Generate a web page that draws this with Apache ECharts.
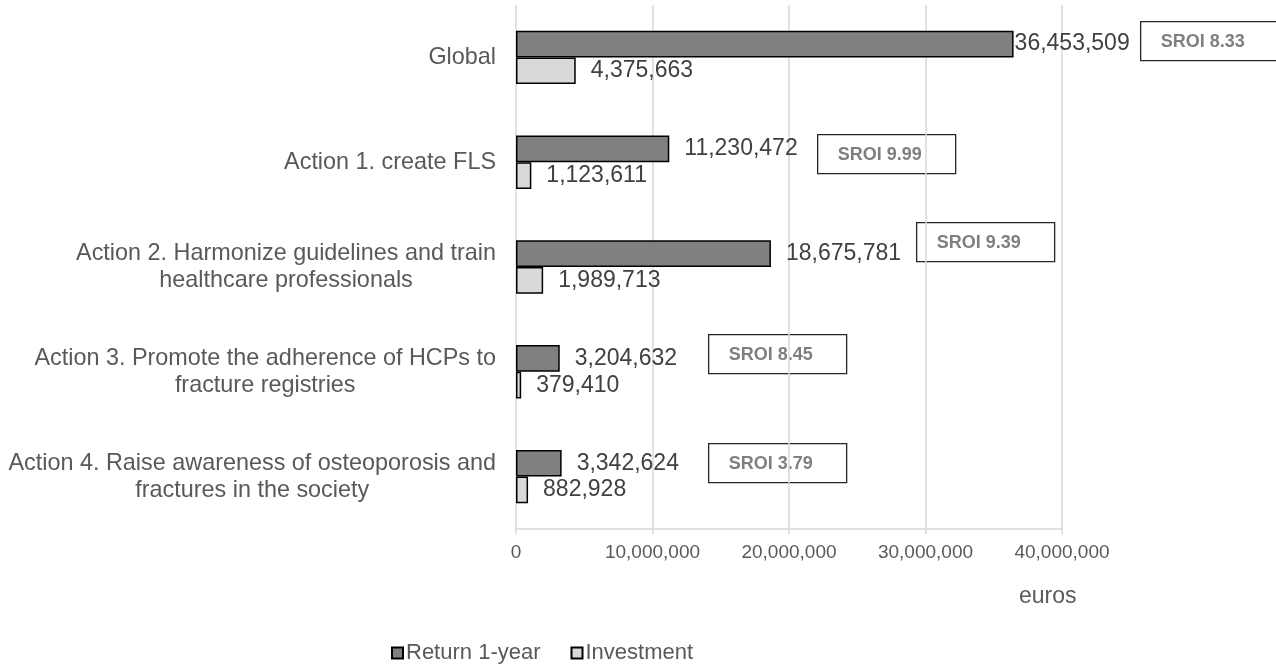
<!DOCTYPE html>
<html>
<head>
<meta charset="utf-8">
<script src="https://cdn.jsdelivr.net/npm/echarts@6/dist/echarts.min.js"></script>
<style>
  html, body { margin: 0; padding: 0; background: #fff; }
  #main { width: 1276px; height: 665px; }
</style>
</head>
<body>
<div id="main"></div>
<script>
// chart data
var categories = [
    'Global',
    'Action 1. create FLS',
    'Action 2. Harmonize guidelines and train\nhealthcare professionals',
    'Action 3. Promote the adherence of HCPs to\nfracture registries',
    'Action 4. Raise awareness of osteoporosis and\nfractures in the society'
];
var returnValues = [36453509, 11230472, 18675781, 3204632, 3342624];
var investmentValues = [4375663, 1123611, 1989713, 379410, 882928];
var sroiValues = ['8.33', '9.99', '9.39', '8.45', '3.79'];
var seriesNames = ['Return 1-year', 'Investment'];
var axisMin = 0, axisMax = 40000000, axisStep = 10000000;

// where the SROI boxes sit (pixels)
var boxPos = [[1140, 21], [817, 134], [916, 222], [708, 334], [708, 443]];

var font = '"Liberation Sans", Arial, sans-serif';

function fmt(v) {
    return Number(v).toLocaleString('en-US');
}

var myChart = echarts.init(document.getElementById('main'));

var returnData = returnValues.map(function (v, i) {
    if (i === 0) {
        return { value: v, label: { distance: 1 } }; // label sits right on the bar end
    }
    return v;
});

var boxes = sroiValues.map(function (s, i) {
    return {
        type: 'group',
        left: boxPos[i][0],
        top: boxPos[i][1],
        children: [
            {
                type: 'rect',
                shape: { x: 0, y: 0, width: 138, height: 39 },
                style: { fill: '#fff', stroke: '#262626', lineWidth: 1.3 }
            },
            {
                type: 'text',
                x: 20,
                y: 20,
                style: {
                    text: 'SROI ' + s,
                    font: 'bold 18px ' + font,
                    fill: '#7f7f7f',
                    verticalAlign: 'middle',
                    align: 'left'
                }
            }
        ]
    };
});

boxes.push({
    type: 'text',
    left: 1019,
    top: 585,
    style: {
        text: 'euros',
        font: '23px ' + font,
        fill: '#595959'
    }
});

var options = {
    animation: false,
    textStyle: { fontFamily: font },
    grid: {
        left: 516,
        right: 214,
        top: 5,
        bottom: 136
    },
    legend: {
        left: 386,
        top: 637,
        itemWidth: 11,
        itemHeight: 11,
        itemGap: 30,
        icon: 'rect',
        textStyle: { fontSize: 22, color: '#595959', padding: [0, 0, 0, -2] },
        data: seriesNames
    },
    xAxis: {
        type: 'value',
        min: axisMin,
        max: axisMax,
        interval: axisStep,
        axisLine: { show: true, lineStyle: { color: '#d9d9d9', width: 1.5 } },
        axisTick: { show: true, length: 5, lineStyle: { color: '#d9d9d9', width: 1.5 } },
        axisLabel: {
            fontSize: 19,
            color: '#595959',
            margin: 14,
            formatter: fmt
        },
        splitLine: { show: true, lineStyle: { color: '#d9d9d9', width: 1.5 } }
    },
    yAxis: {
        type: 'category',
        inverse: true,
        data: categories,
        axisLine: { show: false },
        axisTick: { show: false },
        axisLabel: {
            margin: 20,
            formatter: function (value) {
                return value.split('\n').map(function (l) {
                    return '{c|' + l + '}';
                }).join('\n');
            },
            rich: {
                c: { align: 'center', fontSize: 23.4, lineHeight: 27, color: '#595959' }
            }
        }
    },
    series: [
        {
            name: seriesNames[0],
            type: 'bar',
            barGap: '0%',
            barCategoryGap: '49%',
            itemStyle: { color: '#808080', borderColor: '#000', borderWidth: 1.5 },
            label: {
                show: true,
                position: 'right',
                distance: 15,
                fontSize: 23,
                color: '#404040',
                formatter: function (p) { return fmt(p.value); }
            },
            data: returnData
        },
        {
            name: seriesNames[1],
            type: 'bar',
            itemStyle: { color: '#d9d9d9', borderColor: '#000', borderWidth: 1.5 },
            label: {
                show: true,
                position: 'right',
                distance: 15,
                fontSize: 23,
                color: '#404040',
                formatter: function (p) { return fmt(p.value); }
            },
            data: investmentValues
        }
    ],
    graphic: boxes
};
myChart.setOption(options);
</script>
</body>
</html>
